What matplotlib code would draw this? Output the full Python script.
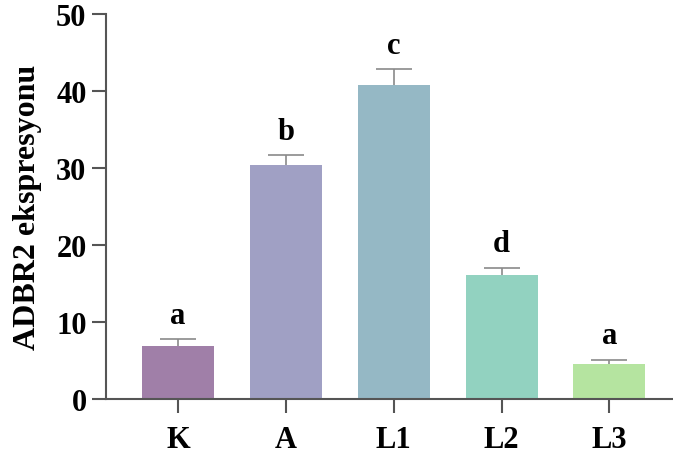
import matplotlib
matplotlib.use("Agg")
import matplotlib.pyplot as plt
import numpy as np

# veriler
groups = ["K", "A", "L1", "L2", "L3"]
means = [6.85, 30.4, 40.8, 16.05, 4.5]
errors = [0.9, 1.25, 2.0, 1.0, 0.6]
letters = ["a", "b", "c", "d", "a"]
colors = ["#A07FA8", "#A0A0C4", "#95B8C5", "#92D2C0", "#B5E4A0"]

plt.rcParams['font.family'] = ['Liberation Serif', 'DejaVu Serif']
plt.rcParams['font.weight'] = 'bold'

fig = plt.figure(figsize=(6.73, 4.60), dpi=100)
ax = fig.add_axes([106/673, 60/460, (672-106)/673, 385/460])

x = np.arange(len(groups))
m = np.array(means)
tops = m + np.array(errors)
ax.bar(x, m, width=0.667, color=colors, zorder=2)
# sadece ust hata cubugu
ax.vlines(x, m, tops, color='#8a8a8a', lw=1.2, zorder=3)
ax.hlines(tops, x - 0.167, x + 0.167, color='#8a8a8a', lw=1.2, zorder=3)

for xi, top, t in zip(x, tops, letters):
    ax.annotate(t, (xi, top), xytext=(0, 7), textcoords='offset points',
                ha='center', va='bottom', fontsize=22, fontweight='bold')

ax.set_ylim(0, 50)
ax.set_xlim(-0.667, 4.58)
ax.set_yticks([0, 10, 20, 30, 40, 50])
ax.set_xticks(x)
ax.set_xticklabels(groups)
ax.set_ylabel("ADBR2 ekspresyonu", fontsize=23, fontweight='bold', labelpad=10)

for s in ['top', 'right']:
    ax.spines[s].set_visible(False)
for s in ['left', 'bottom']:
    ax.spines[s].set_color('#555555')
    ax.spines[s].set_linewidth(1.5)

ax.tick_params(axis='y', length=10, width=1.5, color='#555555', labelsize=22, pad=4)
ax.tick_params(axis='x', length=10, width=1.5, color='#555555', labelsize=22, pad=9)

fig.savefig("out.png", dpi=100)
